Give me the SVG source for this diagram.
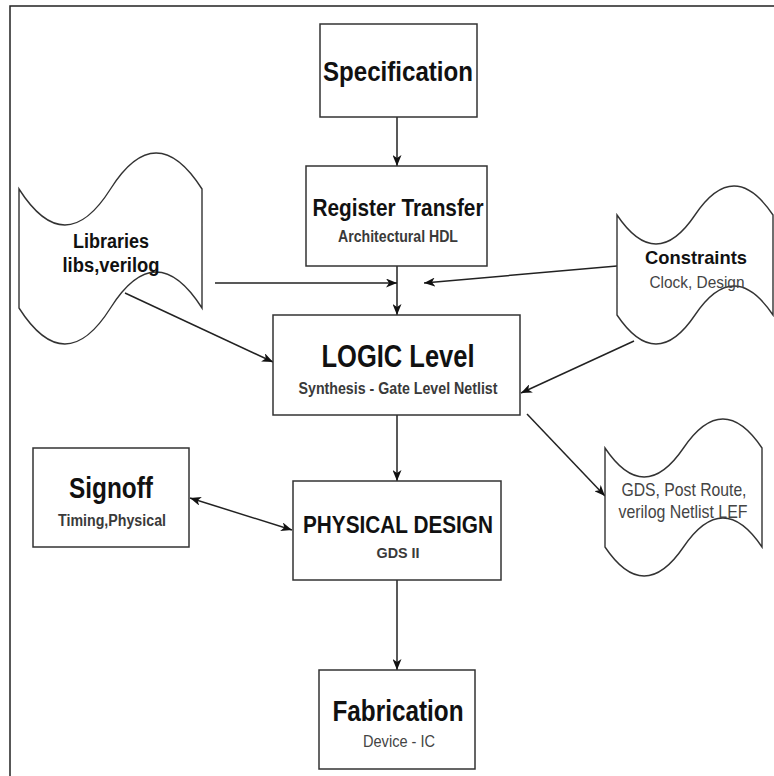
<svg xmlns="http://www.w3.org/2000/svg" width="774" height="776" viewBox="0 0 774 776">
  <defs>
    <marker id="arrow" viewBox="0 0 11 9" refX="11" refY="4.5" markerWidth="11" markerHeight="9" markerUnits="userSpaceOnUse" orient="auto-start-reverse">
      <path d="M0,0 L11,4.5 L0,9 L3,4.5 Z" fill="#111"/>
    </marker>
  </defs>
  <style>
    .box { fill: #fff; stroke: #333; stroke-width: 1.5; }
    .tape { fill: #fff; stroke: #333; stroke-width: 1.4; }
    .edge { fill: none; stroke: #222; stroke-width: 1.5; marker-end: url(#arrow); }
    .both { marker-start: url(#arrow); }
    text { font-family: "Liberation Sans Narrow", "Liberation Sans", Arial, sans-serif; text-anchor: middle; }
    .title { font-weight: bold; fill: #111; }
    .sub { font-weight: bold; fill: #3a3a3a; }
    .note { fill: #444; }
  </style>
  <rect width="774" height="776" fill="#fff"/>
  <!-- page frame -->
  <path d="M10,776 V6 H774" fill="none" stroke="#222" stroke-width="1.5"/>

  <g id="connectors">
    <path class="edge" d="M397,117 V166"/>
    <path class="edge" d="M397,266 V315"/>
    <path class="edge" d="M215,283 H397"/>
    <path class="edge" d="M617,266 L424,283"/>
    <path class="edge" d="M125,293 L273,362"/>
    <path class="edge" d="M634,341 L521,393"/>
    <path class="edge" d="M527,414 L605,496"/>
    <path class="edge" d="M397,415 V481"/>
    <path class="edge both" d="M190,498 L292,530"/>
    <path class="edge" d="M397,580 V670"/>
  </g>

  <g id="specification">
    <rect class="box" x="320" y="24" width="157" height="93"/>
    <text class="title" x="398" y="81" font-size="28" textLength="150" lengthAdjust="spacingAndGlyphs">Specification</text>
  </g>

  <g id="register-transfer">
    <rect class="box" x="306" y="166" width="181" height="100"/>
    <text class="title" x="398" y="216" font-size="24" textLength="171" lengthAdjust="spacingAndGlyphs">Register Transfer</text>
    <text class="sub" x="398" y="242" font-size="16" textLength="120" lengthAdjust="spacingAndGlyphs">Architectural HDL</text>
  </g>

  <g id="libraries">
    <path class="tape" d="M19,189 Q65,261 110.5,189 Q156,117 202,189 V308 Q156,236 110.5,308 Q65,380 19,308 Z"/>
    <text class="title" x="111" y="248" font-size="20" fill="#222" textLength="76" lengthAdjust="spacingAndGlyphs">Libraries</text>
    <text class="title" x="111" y="272" font-size="20" fill="#222" textLength="97" lengthAdjust="spacingAndGlyphs">libs,verilog</text>
  </g>

  <g id="constraints">
    <path class="tape" d="M617,215 Q656,273 695,215 Q734,157 773,215 V315 Q734,257 695,315 Q656,373 617,315 Z"/>
    <text class="title" x="696" y="264" font-size="19" textLength="102" lengthAdjust="spacingAndGlyphs">Constraints</text>
    <text class="note" x="697" y="288" font-size="17" textLength="95" lengthAdjust="spacingAndGlyphs">Clock, Design</text>
  </g>

  <g id="logic-level">
    <rect class="box" x="273" y="315" width="247" height="100"/>
    <text class="title" x="398" y="367" font-size="31" textLength="153" lengthAdjust="spacingAndGlyphs">LOGIC Level</text>
    <text class="sub" x="398" y="394" font-size="16" textLength="199" lengthAdjust="spacingAndGlyphs">Synthesis - Gate Level Netlist</text>
  </g>

  <g id="netlist-output">
    <path class="tape" d="M605,448 Q644,506 683.5,448 Q723,390 762,448 V547 Q723,489 683.5,547 Q644,605 605,547 Z"/>
    <text class="note" x="684" y="496" font-size="19" textLength="125" lengthAdjust="spacingAndGlyphs">GDS, Post Route,</text>
    <text class="note" x="683" y="518" font-size="19" textLength="129" lengthAdjust="spacingAndGlyphs">verilog Netlist LEF</text>
  </g>

  <g id="signoff">
    <rect class="box" x="33" y="448" width="156" height="99"/>
    <text class="title" x="111" y="498" font-size="29" textLength="84" lengthAdjust="spacingAndGlyphs">Signoff</text>
    <text class="sub" x="112" y="526" font-size="16" textLength="108" lengthAdjust="spacingAndGlyphs">Timing,Physical</text>
  </g>

  <g id="physical-design">
    <rect class="box" x="293" y="481" width="208" height="99"/>
    <text class="title" x="398" y="533" font-size="24" textLength="190" lengthAdjust="spacingAndGlyphs">PHYSICAL DESIGN</text>
    <text class="sub" x="398" y="558" font-size="15" textLength="43" lengthAdjust="spacingAndGlyphs">GDS II</text>
  </g>

  <g id="fabrication">
    <rect class="box" x="319" y="670" width="156" height="99"/>
    <text class="title" x="398" y="721" font-size="30" textLength="131" lengthAdjust="spacingAndGlyphs">Fabrication</text>
    <text class="note" x="399" y="747" font-size="16" textLength="72" lengthAdjust="spacingAndGlyphs">Device - IC</text>
  </g>
</svg>
